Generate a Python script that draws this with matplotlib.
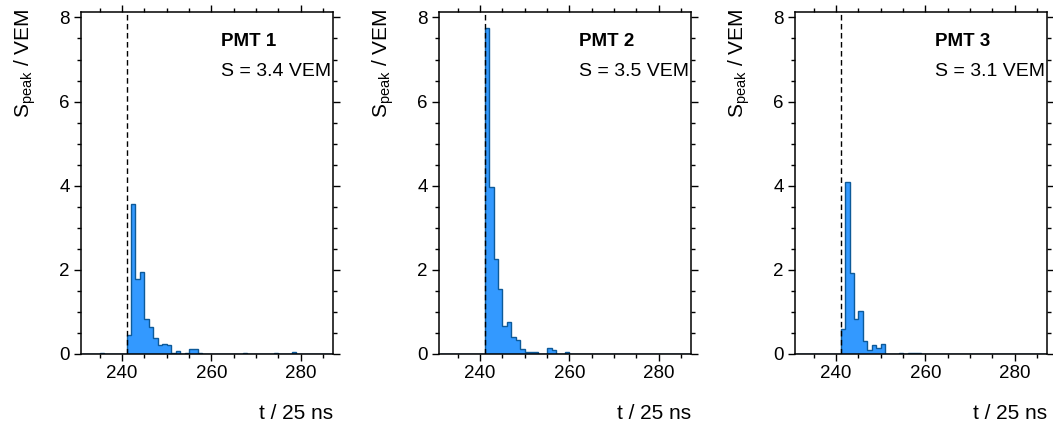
import matplotlib
matplotlib.use("Agg")
import matplotlib.pyplot as plt
import numpy as np
from matplotlib.ticker import MultipleLocator

plt.rcParams['font.family'] = ['Liberation Sans', 'DejaVu Sans']
plt.rcParams['mathtext.fontset'] = 'custom'
plt.rcParams['mathtext.rm'] = 'Liberation Sans'
plt.rcParams['mathtext.it'] = 'Liberation Sans:italic'

# time bins (in units of 25 ns), first bin starts at t_first
t_first = 231
t_last = 287
t_start = 241  # signal start (dashed line)

pmt_names = ["PMT 1", "PMT 2", "PMT 3"]
signals = ["S = 3.4 VEM", "S = 3.5 VEM", "S = 3.1 VEM"]

#            231                             241
pmt1 = [0, 0, 0, 0, 0.02, 0, 0, 0, 0, 0.01,
        0.46, 3.57, 1.79, 1.94, 0.82, 0.63, 0.37, 0.21, 0.24, 0.21,
        0.02, 0.06, 0.0, 0.02, 0.13, 0.13, 0.02, 0.01, 0, 0,
        0, 0, 0, 0, 0, 0, 0.02, 0, 0, 0,
        0, 0, 0, 0.02, 0, 0, 0, 0.05, 0, 0,
        0, 0, 0, 0, 0, 0]
pmt2 = [0, 0.01, 0.01, 0.01, 0, 0.01, 0, 0, 0, 0,
        7.76, 3.97, 2.26, 1.55, 0.67, 0.75, 0.40, 0.34, 0.12, 0.05,
        0.04, 0.04, 0.01, 0.0, 0.15, 0.09, 0.01, 0.01, 0.04, 0.01,
        0, 0, 0, 0, 0, 0, 0, 0, 0, 0,
        0, 0, 0.01, 0.01, 0.01, 0.01, 0.01, 0, 0, 0,
        0, 0, 0, 0, 0, 0]
pmt3 = [0, 0, 0, 0, 0.01, 0, 0, 0, 0, 0,
        0.60, 4.10, 1.93, 0.84, 1.01, 0.32, 0.10, 0.22, 0.15, 0.23,
        0, 0, 0, 0.02, 0.01, 0.03, 0.03, 0.02, 0.01, 0.01,
        0, 0, 0.01, 0, 0, 0, 0.01, 0, 0.01, 0,
        0.01, 0, 0, 0, 0.01, 0, 0, 0, 0, 0,
        0, 0, 0, 0, 0, 0]
traces = [pmt1, pmt2, pmt3]

edges = np.arange(t_first, t_last + 1)
centers = edges[:-1] + 0.5

fig = plt.figure(figsize=(10.53, 4.32), dpi=100)
lefts = [0.0769, 0.4169, 0.755]

for left, name, sig, vals in zip(lefts, pmt_names, signals, traces):
    ax = fig.add_axes([left, 0.1806, 0.2393, 0.7917])
    ax.hist(centers, bins=edges, weights=vals, histtype='stepfilled',
            facecolor='#3399ff', edgecolor='#0d5a99', linewidth=1.0)
    ax.axvline(t_start, color='black', linestyle=(0, (4, 2.5)), linewidth=1.0)

    ax.set_xlim(230.8, 287.2)
    ax.set_ylim(0, 8.13)
    ax.xaxis.set_major_locator(MultipleLocator(20))
    ax.xaxis.set_minor_locator(MultipleLocator(5))
    ax.yaxis.set_major_locator(MultipleLocator(2))
    ax.yaxis.set_minor_locator(MultipleLocator(0.5))
    ax.tick_params(which='both', direction='out', top=True, right=True,
                   labelsize=13.5, width=1.0)
    ax.tick_params(which='major', length=5, pad=3)
    ax.tick_params(which='minor', length=3)
    for sp in ax.spines.values():
        sp.set_linewidth(1.1)

    ax.set_xlabel("t / 25 ns", fontsize=15, loc='right')
    ax.xaxis.set_label_coords(1.0, -0.145)
    ax.set_ylabel(r"S$_\mathrm{peak}$ / VEM", fontsize=15, loc='top')
    ax.yaxis.set_label_coords(-0.17, 1.01)

    ax.text(0.556, 0.915, name, transform=ax.transAxes, fontsize=13.5,
            fontweight='bold', ha='left', va='center')
    ax.text(0.556, 0.825, sig, transform=ax.transAxes, fontsize=14,
            ha='left', va='center')

fig.savefig("out.png", dpi=100)
